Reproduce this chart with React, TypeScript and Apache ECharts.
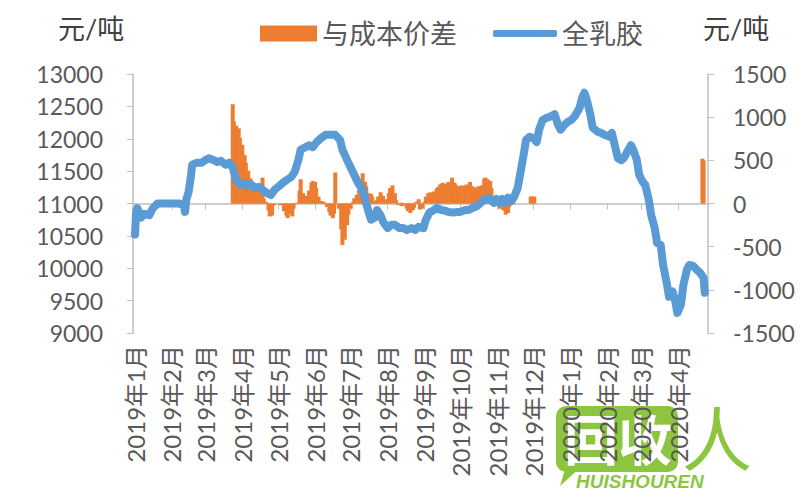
import React, { useEffect, useRef } from "react";
import * as echarts from "echarts";

const unitLabel = "元/吨";
const lineName = "全乳胶";
const barName = "与成本价差";

const latexDates = [
  "2019-01-01","2019-01-02","2019-01-03","2019-01-06","2019-01-09","2019-01-13","2019-01-16","2019-01-20","2019-01-26",
  "2019-02-01","2019-02-07","2019-02-11","2019-02-12","2019-02-13","2019-02-15","2019-02-17","2019-02-18","2019-02-22","2019-02-26",
  "2019-03-01","2019-03-04","2019-03-08","2019-03-11","2019-03-14","2019-03-18","2019-03-21","2019-03-24","2019-03-27","2019-03-30",
  "2019-04-02","2019-04-05","2019-04-08","2019-04-12","2019-04-15","2019-04-18","2019-04-22","2019-04-25","2019-04-28",
  "2019-05-02","2019-05-05","2019-05-08","2019-05-12","2019-05-15","2019-05-18","2019-05-20","2019-05-23","2019-05-27","2019-05-30",
  "2019-06-02","2019-06-06","2019-06-10","2019-06-14","2019-06-18","2019-06-22","2019-06-24","2019-06-28",
  "2019-07-01","2019-07-04","2019-07-07","2019-07-11","2019-07-13","2019-07-16","2019-07-18","2019-07-21","2019-07-23","2019-07-26","2019-07-28",
  "2019-08-01","2019-08-04","2019-08-07","2019-08-11","2019-08-14","2019-08-17","2019-08-21","2019-08-24","2019-08-27","2019-08-31",
  "2019-09-02","2019-09-05","2019-09-08","2019-09-11","2019-09-15","2019-09-18","2019-09-21","2019-09-25","2019-09-28",
  "2019-10-01","2019-10-05","2019-10-08","2019-10-11","2019-10-15","2019-10-18","2019-10-21","2019-10-24","2019-10-26","2019-10-29","2019-10-31",
  "2019-11-03","2019-11-05","2019-11-08","2019-11-10","2019-11-13","2019-11-15","2019-11-18","2019-11-20","2019-11-23","2019-11-25","2019-11-28",
  "2019-12-01","2019-12-04","2019-12-06","2019-12-09","2019-12-12","2019-12-15","2019-12-19","2019-12-22","2019-12-24","2019-12-27","2019-12-30",
  "2020-01-02","2020-01-05","2020-01-09","2020-01-11","2020-01-13","2020-01-15","2020-01-18","2020-01-20","2020-01-24","2020-01-27","2020-01-30",
  "2020-02-03","2020-02-05","2020-02-08","2020-02-10","2020-02-13","2020-02-15","2020-02-18","2020-02-21","2020-02-23","2020-02-26","2020-02-28",
  "2020-03-02","2020-03-04","2020-03-07","2020-03-09","2020-03-12","2020-03-14","2020-03-17","2020-03-19","2020-03-22","2020-03-24","2020-03-27","2020-03-29","2020-03-31",
  "2020-04-03","2020-04-05","2020-04-08","2020-04-10","2020-04-13","2020-04-16","2020-04-19","2020-04-22","2020-04-23"
];
const latexPrices = [
  10520,10870,10930,10780,10840,10820,10930,11000,11000,
  11000,11000,10970,10870,11060,11180,11440,11600,11630,11630,
  11670,11700,11670,11640,11660,11600,11630,11550,11360,11290,
  11320,11270,11300,11240,11260,11210,11160,11130,11210,
  11270,11320,11360,11410,11490,11670,11830,11860,11900,11870,
  11940,12010,12060,12060,12060,11980,11830,11670,
  11550,11440,11320,11210,11060,10870,10750,10780,10900,10820,10720,
  10620,10670,10670,10620,10620,10590,10620,10590,10640,10620,
  10750,10860,10890,10930,10900,10890,10870,10860,10870,
  10870,10900,10900,10930,10960,11010,11060,11090,11060,11010,11070,
  11010,11070,11010,11090,11040,11100,11240,11440,11750,11980,12030,
  12010,11950,12140,12290,12320,12340,12380,12210,12140,12210,12260,
  12290,12350,12480,12630,12710,12600,12370,12170,12110,12090,12060,
  12030,12090,11860,11700,11670,11700,11800,11900,11830,11670,11440,
  11330,11290,11060,10820,10620,10390,10360,10050,9780,9560,9640,9510,9310,
  9440,9740,9980,10050,10040,9980,9930,9850,9620
];

const spreadDates = [
  "2019-03-24","2019-03-25","2019-03-27","2019-03-29","2019-03-30","2019-04-01","2019-04-03","2019-04-04","2019-04-06","2019-04-08",
  "2019-04-09","2019-04-11","2019-04-13","2019-04-14","2019-04-16","2019-04-18","2019-04-19","2019-04-21","2019-04-23","2019-04-24",
  "2019-04-26","2019-04-28","2019-05-03","2019-05-06","2019-05-08","2019-05-09","2019-05-11","2019-05-13","2019-05-14","2019-05-17",
  "2019-05-19","2019-05-20","2019-05-22","2019-05-24","2019-05-25","2019-05-27","2019-05-29","2019-05-30","2019-06-01","2019-06-02",
  "2019-06-04","2019-06-06","2019-06-08","2019-06-09","2019-06-11","2019-06-13","2019-06-14","2019-06-16","2019-06-17","2019-06-18",
  "2019-06-21","2019-06-23","2019-06-24","2019-06-26","2019-06-28","2019-06-29","2019-07-01","2019-07-03","2019-07-04","2019-07-06",
  "2019-07-08","2019-07-09","2019-07-11","2019-07-13","2019-07-14","2019-07-16","2019-07-18","2019-07-19","2019-07-21","2019-07-23",
  "2019-07-24","2019-07-26","2019-07-28","2019-07-29","2019-07-31","2019-08-02","2019-08-03","2019-08-05","2019-08-07","2019-08-08",
  "2019-08-10","2019-08-12","2019-08-13","2019-08-15","2019-08-17","2019-08-18","2019-08-20","2019-08-22","2019-08-23","2019-08-25",
  "2019-08-27","2019-08-28","2019-08-30","2019-09-01","2019-09-02","2019-09-04","2019-09-06","2019-09-07","2019-09-09","2019-09-11",
  "2019-09-12","2019-09-14","2019-09-16","2019-09-17","2019-09-19","2019-09-21","2019-09-22","2019-09-24","2019-09-26","2019-09-27",
  "2019-09-29","2019-10-01","2019-10-02","2019-10-04","2019-10-06","2019-10-07","2019-10-09","2019-10-11","2019-10-12","2019-10-14",
  "2019-10-16","2019-10-17","2019-10-19","2019-10-21","2019-10-22","2019-10-24","2019-10-26","2019-10-27","2019-10-29","2019-10-31",
  "2019-11-03","2019-11-05","2019-11-06","2019-11-08","2019-11-10","2019-11-11","2019-11-29","2019-11-30","2019-12-02",
  "2020-04-21","2020-04-22"
];
const spreadValues = [
  1150,950,900,870,760,680,560,470,380,290,
  230,190,170,160,140,300,60,20,-80,-150,
  -140,-20,-20,-90,-140,-170,-120,-150,-60,10,
  150,280,120,80,90,150,240,260,250,180,
  80,30,20,10,-40,-100,-140,-170,-120,360,
  -60,-300,-480,-420,-250,-130,-60,20,60,100,
  160,280,350,250,200,120,110,80,30,40,
  80,130,90,40,50,120,180,210,120,40,
  -20,10,-30,-20,-60,-90,-110,-80,-50,20,
  50,-70,-60,20,80,120,130,110,140,170,
  190,220,240,210,230,250,220,300,240,220,
  200,190,210,200,220,190,250,200,190,180,
  200,190,210,290,300,280,260,180,20,-30,
  -60,-20,-80,-130,-110,-40,80,80,80,
  520,500
];

const axisMinDate = "2019-01-01";
const axisMaxDate = "2020-04-24";

const labelColor = "#595959";
const axisColor = "#bfbfbf";
const fontFamily = "Lato, 'Noto Sans CJK SC', sans-serif";
const orange = "#ed7d31";
const blue = "#5b9bd5";
const green = "#8cc63f";

export default function App() {
  const ref = useRef<HTMLDivElement>(null);
  useEffect(() => {
    if (!ref.current) return;
    const chart = echarts.init(ref.current, null, { renderer: "svg" });
    const DAY = 24 * 3600 * 1000;
    chart.setOption({
      animation: false,
      backgroundColor: "#ffffff",
      textStyle: { fontFamily },
      grid: { left: 133, right: 92, top: 74, bottom: 167, containLabel: false },
      legend: [
        {
          left: 255,
          top: 15,
          itemWidth: 57,
          itemHeight: 16,
          textStyle: { fontSize: 27, color: labelColor, fontFamily },
          data: [{ name: barName, icon: "rect" }],
        },
        {
          left: 488,
          top: 15,
          itemWidth: 64,
          itemHeight: 7,
          itemGap: 4,
          textStyle: { fontSize: 27, color: labelColor, fontFamily },
          data: [{ name: lineName, icon: "roundRect", itemStyle: { color: blue } }],
        },
      ],
      graphic: [
        { type: "text", left: 58, top: 15, style: { text: unitLabel, fontSize: 27, fill: "#404040", fontFamily } },
        { type: "text", left: 703, top: 15, style: { text: unitLabel, fontSize: 27, fill: "#404040", fontFamily } },
        {
          type: "group",
          left: 556,
          top: 400,
          children: [
            { type: "rect", shape: { x: 4, y: 10, width: 122, height: 66, r: 10 }, style: { fill: green } },
            { type: "polygon", shape: { points: [[14, 70], [30, 70], [8, 90]] }, style: { fill: green } },
            { type: "text", x: 12, y: 14, style: { text: "回收", fontSize: 54, fontWeight: "bold", fill: "#ffffff", fontFamily: "'Noto Sans CJK SC'" } },
            { type: "text", x: 130, y: 4, style: { text: "人", fontSize: 70, fill: green, fontFamily: "'Noto Sans CJK SC'" } },
            { type: "text", x: 24, y: 76, style: { text: "HUISHOUREN", fontSize: 19, fontWeight: "bold", fontStyle: "italic", fill: green, fontFamily: "'Liberation Sans'" } },
          ],
        },
      ],
      xAxis: {
        type: "time",
        min: axisMinDate,
        max: axisMaxDate,
        minInterval: 30 * DAY,
        maxInterval: 31 * DAY,
        splitLine: { show: false },
        axisLine: { show: true, lineStyle: { color: axisColor, width: 1.5 } },
        axisTick: { show: true, length: 6, lineStyle: { color: axisColor } },
        axisLabel: {
          rotate: 90,
          margin: 12,
          fontSize: 24,
          color: labelColor,
          fontFamily,
          hideOverlap: false,
          formatter: (v: number) => {
            const d = new Date(v);
            return d.getFullYear() + "年" + (d.getMonth() + 1) + "月";
          },
        },
      },
      yAxis: [
        {
          type: "value",
          min: 9000,
          max: 13000,
          interval: 500,
          splitLine: { show: false },
          axisLine: { show: true, lineStyle: { color: axisColor, width: 1.5 } },
          axisTick: { show: true, length: 6, lineStyle: { color: axisColor } },
          axisLabel: { fontSize: 23, color: labelColor, margin: 30, fontFamily, formatter: (v: number) => String(v) },
        },
        {
          type: "value",
          min: -1500,
          max: 1500,
          interval: 500,
          position: "right",
          splitLine: { show: false },
          axisLine: { show: true, lineStyle: { color: axisColor, width: 1.5 } },
          axisTick: { show: true, length: 6, lineStyle: { color: axisColor } },
          axisLabel: { fontSize: 23, color: labelColor, margin: 25, fontFamily, formatter: (v: number) => String(v) },
        },
      ],
      series: [
        {
          name: barName,
          type: "bar",
          yAxisIndex: 1,
          barWidth: 4,
          itemStyle: { color: orange },
          data: spreadDates.map((d, i) => [d, spreadValues[i]]),
          z: 2,
        },
        {
          name: lineName,
          type: "line",
          yAxisIndex: 0,
          symbol: "none",
          showSymbol: false,
          lineStyle: { color: blue, width: 8, join: "round", cap: "round" },
          itemStyle: { color: blue },
          data: latexDates.map((d, i) => [d, latexPrices[i]]),
          z: 3,
        },
      ],
    });
    return () => chart.dispose();
  }, []);
  return <div ref={ref} style={{ width: 800, height: 500, position: "fixed", left: 0, top: 0 }} />;
}
